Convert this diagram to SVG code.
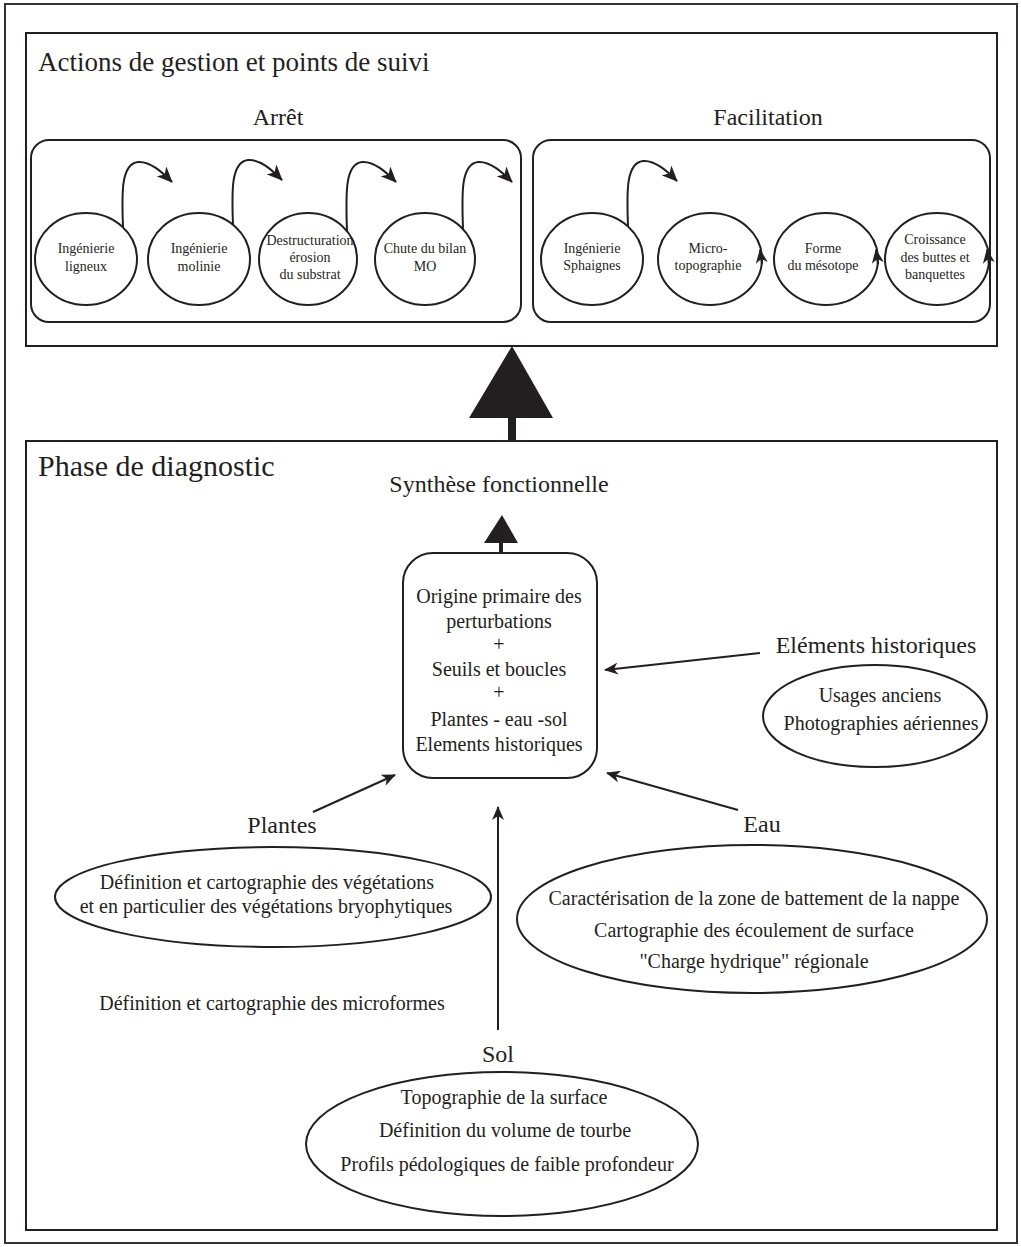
<svg xmlns="http://www.w3.org/2000/svg" width="1021" height="1247" viewBox="0 0 1021 1247">
<style>
text{font-family:"Liberation Serif","Times New Roman",serif;fill:#231f20}
.t30{font-size:30px}
.t24{font-size:24px;text-anchor:middle}
.t20{font-size:20px;text-anchor:middle}
.t14{font-size:14px;text-anchor:middle}
.box{fill:none;stroke:#231f20;stroke-width:2}
.frame{fill:none;stroke:#333;stroke-width:2}
.node{fill:#fff;stroke:#231f20;stroke-width:2}
.conn{fill:none;stroke:#231f20;stroke-width:2;marker-end:url(#ah)}
.conn2{fill:none;stroke:#231f20;stroke-width:2;marker-end:url(#ah2)}
</style>
<defs>
<marker id="ah" viewBox="0 0 16 14" refX="15" refY="7" markerWidth="16" markerHeight="14" markerUnits="userSpaceOnUse" orient="auto">
<path d="M0,0 L16,7 L0,14 L4.5,7 Z" fill="#231f20"/>
</marker>
<marker id="ah2" viewBox="0 0 14 12" refX="13" refY="6" markerWidth="14" markerHeight="12" markerUnits="userSpaceOnUse" orient="auto">
<path d="M0,0 L14,6 L0,12 L4,6 Z" fill="#231f20"/>
</marker>
</defs>
<rect width="1021" height="1247" fill="#fff"/>
<rect class="frame" x="5" y="4" width="1012" height="1239"/>

<g id="actions">
<rect class="box" x="26" y="33" width="971" height="313"/>
<text x="38" y="71" style="font-size:27px">Actions de gestion et points de suivi</text>
</g>

<g id="arret">
<rect class="box" x="31" y="140" width="490" height="182" rx="18"/>
<text class="t24" x="278" y="125">Arrêt</text>
</g>
<g id="facilitation">
<rect class="box" x="533" y="140" width="457" height="182" rx="18"/>
<text class="t24" x="768" y="125">Facilitation</text>
</g>

<g id="n-ligneux"><ellipse class="node" cx="86" cy="259" rx="51" ry="46"/>
<text class="t14" x="86" y="253">Ingénierie</text><text class="t14" x="86" y="271">ligneux</text></g>
<g id="n-molinie"><ellipse class="node" cx="199" cy="259" rx="51" ry="46"/>
<text class="t14" x="199" y="253">Ingénierie</text><text class="t14" x="199" y="271">molinie</text></g>
<g id="n-destructuration"><ellipse class="node" cx="308" cy="259" rx="49" ry="46"/>
<text class="t14" x="310" y="245">Destructuration</text><text class="t14" x="310" y="262">érosion</text><text class="t14" x="310" y="279">du substrat</text></g>
<g id="n-chute"><ellipse class="node" cx="425" cy="259" rx="50" ry="46"/>
<text class="t14" x="425" y="253">Chute du bilan</text><text class="t14" x="425" y="271">MO</text></g>

<g id="n-sphaignes"><ellipse class="node" cx="592" cy="259" rx="51" ry="46"/>
<text class="t14" x="592" y="253">Ingénierie</text><text class="t14" x="592" y="270">Sphaignes</text></g>
<g id="n-micro"><ellipse class="node" cx="710" cy="259" rx="52" ry="46"/>
<text class="t14" x="708" y="253">Micro-</text><text class="t14" x="708" y="270">topographie</text></g>
<g id="n-forme"><ellipse class="node" cx="826" cy="259" rx="52" ry="46"/>
<text class="t14" x="823" y="253">Forme</text><text class="t14" x="823" y="270">du mésotope</text></g>
<g id="n-croissance"><ellipse class="node" cx="937" cy="259" rx="52" ry="46"/>
<text class="t14" x="935" y="244">Croissance</text><text class="t14" x="935" y="262">des buttes et</text><text class="t14" x="935" y="279">banquettes</text></g>

<g id="diagnostic">
<rect class="box" x="26" y="441" width="971" height="789"/>
<text class="t30" x="38" y="476">Phase de diagnostic</text>
<text class="t24" x="499" y="492">Synthèse fonctionnelle</text>
</g>

<g id="synthese">
<rect class="node" x="403" y="553" width="194" height="225" rx="30"/>
<text class="t20" x="499" y="603">Origine primaire des</text>
<text class="t20" x="499" y="628">perturbations</text>
<text class="t20" x="499" y="651">+</text>
<text class="t20" x="499" y="676">Seuils et boucles</text>
<text class="t20" x="499" y="699">+</text>
<text class="t20" x="499" y="726">Plantes - eau -sol</text>
<text class="t20" x="499" y="751">Elements historiques</text>
</g>

<g id="historiques">
<text class="t24" x="876" y="653">Eléments historiques</text>
<ellipse class="node" cx="875" cy="716" rx="112" ry="51"/>
<text class="t20" x="880" y="702">Usages anciens</text>
<text class="t20" x="881" y="730">Photographies aériennes</text>
</g>

<g id="plantes">
<text class="t24" x="282" y="833">Plantes</text>
<ellipse class="node" cx="273" cy="897" rx="218" ry="50"/>
<text class="t20" x="267" y="889">Définition et cartographie des végétations</text>
<text class="t20" x="266" y="913">et en particulier des végétations bryophytiques</text>
</g>

<g id="eau">
<text class="t24" x="762" y="832">Eau</text>
<ellipse class="node" cx="752" cy="919" rx="235" ry="74"/>
<text class="t20" x="754" y="905">Caractérisation de la zone de battement de la nappe</text>
<text class="t20" x="754" y="937">Cartographie des écoulement de surface</text>
<text class="t20" x="754" y="968">"Charge hydrique" régionale</text>
</g>

<g id="microformes">
<text class="t20" x="272" y="1010">Définition et cartographie des microformes</text>
</g>

<g id="sol">
<text class="t24" x="498" y="1062">Sol</text>
<ellipse class="node" cx="502" cy="1144" rx="196" ry="72"/>
<text class="t20" x="504" y="1104">Topographie de la surface</text>
<text class="t20" x="505" y="1137">Définition du volume de tourbe</text>
<text class="t20" x="507" y="1171">Profils pédologiques de faible profondeur</text>
</g>

<g id="connectors">
<polygon points="512,346 553,418 469,418" fill="#231f20"/>
<rect x="508" y="417" width="8" height="24" fill="#231f20"/>
<polygon points="502,515 518,543 484,543" fill="#231f20"/>
<rect x="499" y="542" width="4" height="11" fill="#231f20"/>

<path class="conn" d="M123,227 c-1,-30 -3,-63 15,-65 c12,-1 24,10 34,20"/>
<path class="conn" d="M233,225 c-1,-30 -3,-63 15,-65 c12,-1 24,10 34,20"/>
<path class="conn" d="M347,232 c-1,-35 -3,-68 15,-70 c12,-1 24,10 34,20"/>
<path class="conn" d="M463,229 c-1,-32 -3,-65 15,-67 c12,-1 24,10 34,20"/>
<path class="conn" d="M628,226 c-1,-30 -3,-63 15,-65 c12,-1 24,10 34,20"/>

<path class="conn2" d="M762,264 L760,250"/>
<path class="conn2" d="M878,264 L876,250"/>
<path class="conn2" d="M989,264 L987,250"/>

<line class="conn2" x1="760" y1="653" x2="605" y2="670"/>
<line class="conn2" x1="313" y1="812" x2="395" y2="775"/>
<line class="conn2" x1="738" y1="810" x2="607" y2="773"/>
<line class="conn2" x1="498" y1="1030" x2="498" y2="807"/>
</g>
</svg>
